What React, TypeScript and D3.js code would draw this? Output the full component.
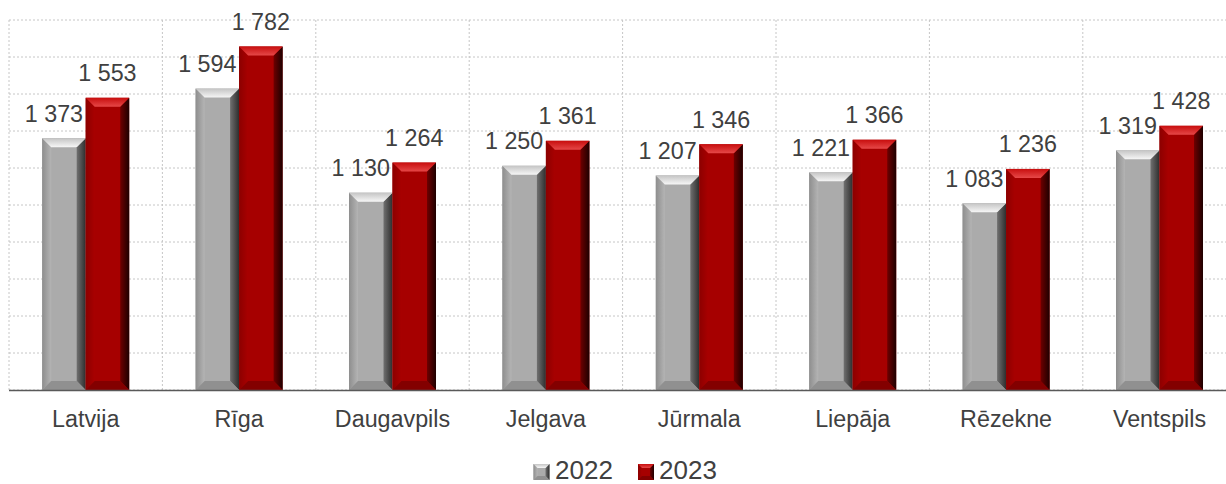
import React from "react";
import * as d3 from "d3";

const categories = ["Latvija", "Rīga", "Daugavpils", "Jelgava", "Jūrmala", "Liepāja", "Rēzekne", "Ventspils"];
const seriesNames = ["2022", "2023"];
const values2022 = [1373, 1594, 1130, 1250, 1207, 1221, 1083, 1319];
const values2023 = [1553, 1782, 1264, 1361, 1346, 1366, 1236, 1428];
const yDomain = [250, 1900];
const yTickStep = 165;

const W = 1226;
const H = 484;
const plotLeft = 9;
const plotRight = 1236.2;
const plotTop = 20;
const plotBottom = 390;
const FONT = "'Liberation Sans', Arial, sans-serif";

const locale = d3.formatLocale({ decimal: ",", thousands: " ", grouping: [3], currency: ["", ""] });
const fmt = locale.format(",");

const palettes = [
  {
    key: "g",
    body: "#ababab",
    leftA: "#8e8e8e",
    leftB: "#b4b4b4",
    rightA: "#707070",
    rightB: "#2e2e2e",
    topA: "#c4c4c4",
    topB: "#f6f6f6",
    bottom: "#8a8a8a",
  },
  {
    key: "r",
    body: "#a60000",
    leftA: "#8c0000",
    leftB: "#a80000",
    rightA: "#6e0000",
    rightB: "#1e0000",
    topA: "#c80e0e",
    topB: "#e64848",
    bottom: "#7a0000",
  },
];

function Bar({ x, y, w, h, p, b }: { x: number; y: number; w: number; h: number; p: any; b: number }) {
  const x0 = x, x1 = x + w, y0 = y, y1 = y + h;
  const bb = Math.min(b, h / 2, w / 2);
  return (
    <g>
      <rect x={x0} y={y0} width={w} height={h} fill={p.body} />
      <polygon
        points={`${x0},${y0} ${x0 + bb},${y0 + bb} ${x0 + bb},${y1 - bb} ${x0},${y1}`}
        fill={`url(#left-${p.key})`}
      />
      <polygon
        points={`${x1},${y0} ${x1 - bb},${y0 + bb} ${x1 - bb},${y1 - bb} ${x1},${y1}`}
        fill={`url(#right-${p.key})`}
      />
      <polygon
        points={`${x0},${y1} ${x0 + bb},${y1 - bb} ${x1 - bb},${y1 - bb} ${x1},${y1}`}
        fill={p.bottom}
        opacity={0.8}
      />
      <polygon
        points={`${x0},${y0} ${x1},${y0} ${x1 - bb},${y0 + bb} ${x0 + bb},${y0 + bb}`}
        fill={`url(#top-${p.key})`}
      />
    </g>
  );
}

export default function App() {
  const x0 = d3.scaleBand<string>().domain(categories).range([plotLeft, plotRight]).padding(0);
  const x1 = d3
    .scaleBand<string>()
    .domain(seriesNames)
    .range([0, x0.step()])
    .paddingInner(0)
    .paddingOuter(0.763);
  const y = d3.scaleLinear().domain(yDomain).range([plotBottom, plotTop]);
  const ticks = d3.range(yDomain[0], yDomain[1] + 1, yTickStep);
  const seriesValues = [values2022, values2023];
  const labelDx = [-10, 0];

  return (
    <svg
      width={W}
      height={H}
      style={{ position: "absolute", left: 0, top: 0, display: "block", background: "#fff" }}
    >
      <defs>
        {palettes.map((p) => (
          <React.Fragment key={p.key}>
            <linearGradient id={`left-${p.key}`} x1="0" x2="1" y1="0" y2="0">
              <stop offset="0" stopColor={p.leftA} />
              <stop offset="1" stopColor={p.leftB} />
            </linearGradient>
            <linearGradient id={`right-${p.key}`} x1="0" x2="1" y1="0" y2="0">
              <stop offset="0" stopColor={p.rightA} />
              <stop offset="1" stopColor={p.rightB} />
            </linearGradient>
            <linearGradient id={`top-${p.key}`} x1="0" x2="0" y1="0" y2="1">
              <stop offset="0" stopColor={p.topA} />
              <stop offset="1" stopColor={p.topB} />
            </linearGradient>
          </React.Fragment>
        ))}
      </defs>

      {/* horizontal gridlines */}
      {ticks.map((t) => (
        <line
          key={`h${t}`}
          x1={plotLeft}
          x2={plotRight}
          y1={y(t)}
          y2={y(t)}
          stroke="#c6c6c6"
          strokeWidth={1}
          strokeDasharray="2,2"
        />
      ))}
      {/* vertical gridlines */}
      {categories.map((c) => (
        <line
          key={`v${c}`}
          x1={x0(c)!}
          x2={x0(c)!}
          y1={plotTop}
          y2={plotBottom}
          stroke="#c6c6c6"
          strokeWidth={1}
          strokeDasharray="2,2"
        />
      ))}

      {/* bars */}
      {categories.map((c, i) => (
        <g key={`b${c}`}>
          {seriesNames.map((s, si) => {
            const v = seriesValues[si][i];
            const bx = x0(c)! + x1(s)!;
            const by = y(v);
            return (
              <Bar key={s} x={bx} y={by} w={x1.bandwidth()} h={plotBottom - by} p={palettes[si]} b={9} />
            );
          })}
        </g>
      ))}

      {/* axis line */}
      <line x1={plotLeft} x2={plotRight} y1={plotBottom + 0.5} y2={plotBottom + 0.5} stroke="#595959" strokeWidth={1.5} />

      {/* value labels */}
      {categories.map((c, i) => (
        <g key={`l${c}`}>
          {seriesNames.map((s, si) => {
            const v = seriesValues[si][i];
            const cx = x0(c)! + x1(s)! + x1.bandwidth() / 2 + labelDx[si];
            return (
              <text
                key={s}
                x={cx}
                y={y(v) - 16.5}
                textAnchor="middle"
                fontFamily={FONT}
                fontSize={23.3}
                fill="#404040"
              >
                {fmt(v)}
              </text>
            );
          })}
        </g>
      ))}

      {/* category labels */}
      {categories.map((c) => (
        <text
          key={`c${c}`}
          x={x0(c)! + x0.bandwidth() / 2}
          y={427}
          textAnchor="middle"
          fontFamily={FONT}
          fontSize={23.3}
          fill="#404040"
        >
          {c}
        </text>
      ))}

      {/* legend */}
      <g>
        <Bar x={533.5} y={464} w={16} h={16} p={palettes[0]} b={4} />
        <text x={555} y={479} fontFamily={FONT} fontSize={26} fill="#404040">
          {seriesNames[0]}
        </text>
        <Bar x={638} y={464} w={16} h={16} p={palettes[1]} b={4} />
        <text x={659} y={479} fontFamily={FONT} fontSize={26} fill="#404040">
          {seriesNames[1]}
        </text>
      </g>
    </svg>
  );
}
